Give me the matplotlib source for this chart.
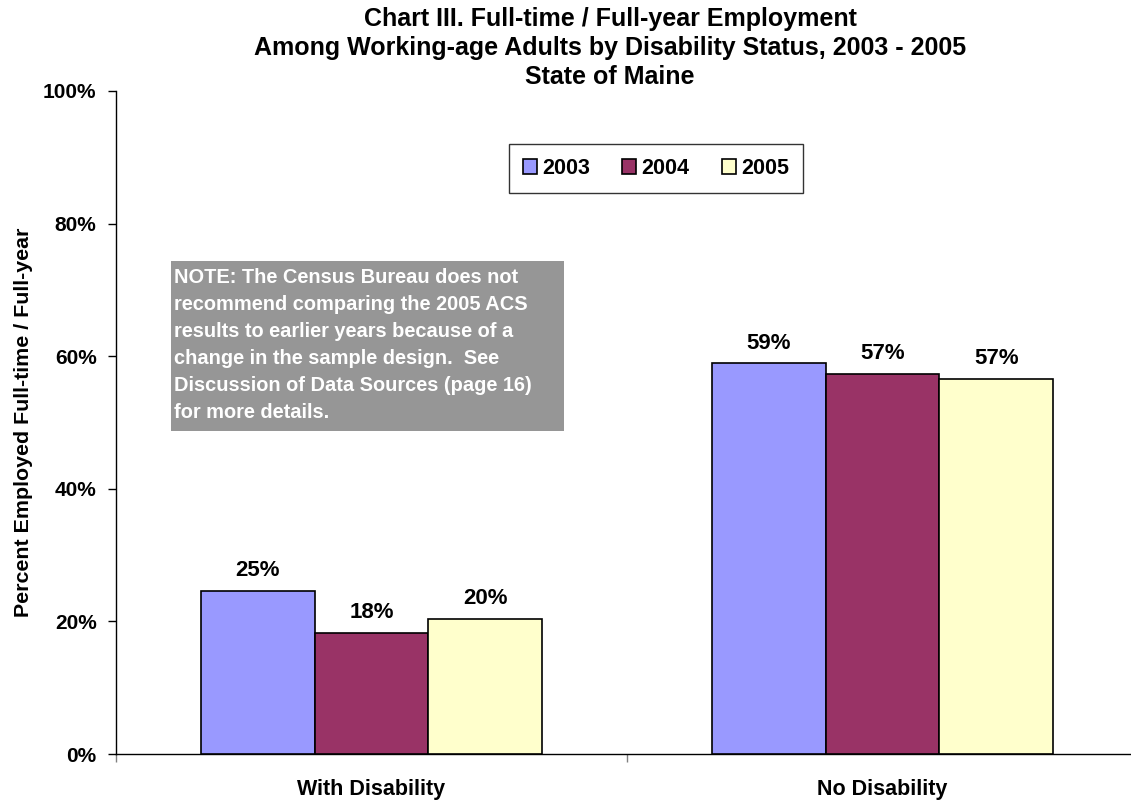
import numpy as np
import matplotlib
matplotlib.use("Agg")
import matplotlib.pyplot as plt
from matplotlib.patches import Rectangle

plt.rcParams['font.family'] = ['Liberation Sans', 'DejaVu Sans']

# data
categories = ['With Disability', 'No Disability']
years = ['2003', '2004', '2005']
values = {
    '2003': [24.6, 58.9],
    '2004': [18.3, 57.3],
    '2005': [20.4, 56.6],
}
labels = {
    '2003': ['25%', '59%'],
    '2004': ['18%', '57%'],
    '2005': ['20%', '57%'],
}
colors = ['#9999FF', '#993366', '#FFFFCC']
yticks = [0, 20, 40, 60, 80, 100]

W, H = 1131, 801
fig = plt.figure(figsize=(W / 100, H / 100), dpi=100)
ax = fig.add_axes([116 / W, (H - 754) / H, (1138 - 116) / W, (754 - 91) / H])

x = np.arange(len(categories))
bw = 0.2225
for i, yr in enumerate(years):
    pos = x + (i - 1) * bw
    bars = ax.bar(pos, values[yr], bw, color=colors[i], edgecolor='black',
                  linewidth=1.2, label=yr, zorder=3)
    for b, lab in zip(bars, labels[yr]):
        ax.text(b.get_x() + b.get_width() / 2, b.get_height() + 1.5, lab,
                ha='center', va='bottom', fontsize=16, fontweight='bold')

ax.set_xlim(-0.5, 1.5)
ax.set_ylim(0, 100)
ax.set_yticks(yticks)
ax.set_yticklabels([f'{t}%' for t in yticks], fontsize=15, fontweight='bold')
ax.tick_params(axis='y', direction='out', length=6, width=1, pad=8)

ax.set_xticks([-0.5, 0.5, 1.5])
ax.set_xticklabels([])
ax.tick_params(axis='x', which='major', direction='out', length=6, width=1, color='gray')
ax.set_xticks(x, minor=True)
ax.set_xticklabels(categories, minor=True, fontsize=15.5, fontweight='bold')
ax.tick_params(axis='x', which='minor', length=0, pad=18)

for s in ['top', 'right']:
    ax.spines[s].set_visible(False)
ax.spines['left'].set_linewidth(1)
ax.spines['bottom'].set_linewidth(1)

ax.set_ylabel('Percent Employed Full-time / Full-year', fontsize=15.4, fontweight='bold')
ax.yaxis.set_label_coords((33 - 116) / (1138 - 116), 0.5)

fig.text(610 / W, 1 - 7 / H,
         'Chart III. Full-time / Full-year Employment\n'
         'Among Working-age Adults by Disability Status, 2003 - 2005\n'
         'State of Maine',
         ha='center', va='top', fontsize=18, fontweight='bold', linespacing=1.25)

leg = ax.legend(loc='center', bbox_to_anchor=(656 / W, 1 - 168.5 / H),
                bbox_transform=fig.transFigure, ncol=3, frameon=True, fancybox=False,
                prop={'size': 15.5, 'weight': 'bold'}, handlelength=0.65, handleheight=0.65,
                handletextpad=0.25, columnspacing=1.5, borderpad=0.65, edgecolor='black')
leg.get_frame().set_linewidth(1)

# note box
fig.patches.append(Rectangle((171 / W, 1 - 431 / H), (564 - 171) / W, (431 - 261) / H,
                             transform=fig.transFigure, facecolor='#969696',
                             edgecolor='none', zorder=5))
fig.text(174 / W, 1 - 268 / H,
         'NOTE: The Census Bureau does not\n'
         'recommend comparing the 2005 ACS\n'
         'results to earlier years because of a\n'
         'change in the sample design.  See\n'
         'Discussion of Data Sources (page 16)\n'
         'for more details.',
         ha='left', va='top', color='white', fontsize=14.4, fontweight='bold',
         linespacing=1.54, zorder=6)

fig.savefig('out.png', dpi=100)
